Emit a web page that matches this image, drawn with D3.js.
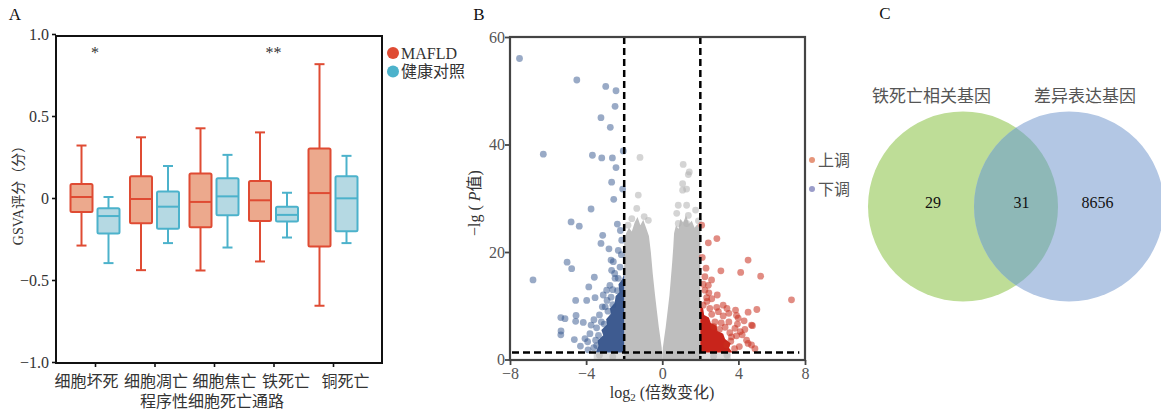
<!DOCTYPE html>
<html>
<head>
<meta charset="utf-8">
<script src="https://cdn.jsdelivr.net/npm/d3@7"></script>
<style>
  body { margin: 0; background: #fff; }
  svg { display: block; }
  text { font-family: "Liberation Serif", "Noto Sans CJK SC", serif; }
</style>
</head>
<body>
<svg width="1161" height="410"></svg>
<script>
// ---------- data: panel A (box stats: [whiskerLow, q1, median, q3, whiskerHigh]) ----------
var categories = ["细胞坏死", "细胞凋亡", "细胞焦亡", "铁死亡", "铜死亡"];
var groups = ["MAFLD", "健康对照"];
var mafldStats = [
  [-0.29, -0.085, 0.006, 0.085, 0.32],
  [-0.44, -0.154, -0.006, 0.132, 0.37],
  [-0.442, -0.178, -0.024, 0.15, 0.425],
  [-0.387, -0.14, -0.014, 0.103, 0.40],
  [-0.657, -0.296, 0.03, 0.302, 0.816]
];
var ctrlStats = [
  [-0.397, -0.217, -0.11, -0.063, 0.006],
  [-0.275, -0.188, -0.053, 0.04, 0.195],
  [-0.302, -0.105, 0.01, 0.12, 0.263],
  [-0.241, -0.144, -0.103, -0.053, 0.032],
  [-0.275, -0.202, -0.002, 0.132, 0.257]
];
var sigLabels = ["*", "", "", "**", ""];
var yTicksA = [-1, -0.5, 0, 0.5, 1];

// ---------- data: panel B (volcano) [log2FC, -lg P] ----------
var downPts = [
  [-7.5, 56.0], [-4.49, 52.0], [-2.97, 50.8], [-2.43, 50.0], [-2.48, 47.1], [-3.22, 45.0],
  [-2.73, 43.2], [-6.25, 38.2], [-3.67, 38.0], [-3.18, 37.5], [-2.62, 37.5], [-2.05, 38.8],
  [-2.43, 35.7], [-2.66, 33.0], [-2.08, 31.7], [-2.55, 29.8], [-3.74, 28.0], [-4.79, 25.6],
  [-4.36, 24.8], [-2.36, 25.2], [-3.13, 23.1], [-3.22, 21.6], [-2.80, 20.6], [-5.0, 18.1],
  [-4.76, 16.9], [-6.79, 14.8], [-3.57, 15.3], [-3.86, 13.5], [-4.55, 11.0], [-3.97, 11.0],
  [-3.53, 11.5], [-3.15, 9.8], [-5.33, 7.8], [-5.11, 7.6], [-4.53, 8.2], [-4.55, 7.1],
  [-4.15, 6.9], [-5.32, 5.3], [-5.33, 4.6], [-4.62, 3.7], [-4.06, 3.9], [-3.92, 3.3],
  [-3.74, 6.4], [-3.59, 7.4], [-2.69, 18.5], [-2.57, 18.2], [-2.66, 16.6], [-2.48, 15.1],
  [-2.92, 12.9], [-2.69, 11.6], [-2.31, 20.3], [-2.13, 22.2], [-2.22, 17.2], [-2.31, 15.1],
  [-3.35, 4.5], [-3.05, 6.6], [-2.85, 9.0], [-3.45, 2.6], [-2.6, 13.0], [-2.2, 24.0],
  [-3.6, 2.2], [-3.8, 4.8], [-3.45, 5.9], [-3.3, 8.3], [-3.0, 9.8], [-2.9, 11.0],
  [-2.75, 13.8], [-3.1, 12.0], [-2.5, 16.0], [-4.3, 2.5], [-3.9, 1.8], [-3.2, 7.0],
  [-2.6, 10.2], [-2.35, 12.8], [-3.5, 3.6], [-2.15, 19.5]
];
var upPts = [
  [2.07, 25.0], [2.42, 21.7], [2.87, 22.5], [4.51, 18.5], [3.08, 16.5], [4.12, 16.2],
  [5.17, 15.5], [6.79, 11.1], [2.24, 15.4], [2.59, 14.8], [2.42, 13.8], [2.24, 12.9],
  [2.89, 12.0], [2.33, 11.5], [3.20, 10.1], [2.86, 9.7], [3.85, 9.2], [4.51, 8.8],
  [4.97, 9.3], [2.50, 9.5], [3.20, 8.1], [3.50, 8.6], [3.99, 7.7], [4.30, 7.2],
  [4.69, 6.4], [4.34, 5.6], [3.90, 4.4], [3.64, 4.2], [4.43, 3.6], [4.69, 2.7],
  [4.87, 2.0], [3.38, 2.7], [2.77, 7.0], [2.15, 10.1], [3.82, 5.8], [4.51, 3.0],
  [3.9, 8.2], [4.74, 6.3], [3.3, 6.0], [3.6, 3.4], [2.6, 8.4],
  [3.1, 6.8], [3.5, 7.0], [2.95, 8.9], [3.55, 5.0], [4.05, 2.4], [3.95, 6.6],
  [2.35, 10.8], [2.6, 11.3], [3.4, 9.5], [4.2, 4.6], [2.15, 14.0], [2.3, 17.0],
  [2.1, 19.0], [3.0, 5.6], [2.7, 6.1], [3.8, 2.0], [4.1, 5.2], [2.45, 12.4]
];
var grayPts = [
  [-1.17, 37.6], [-1.26, 30.6], [1.10, 36.3], [1.42, 34.9], [1.37, 34.4], [1.07, 32.7],
  [1.07, 31.5], [1.28, 31.7], [0.84, 28.7], [1.28, 28.7], [1.75, 27.8], [-0.73, 25.9],
  [-1.34, 28.1], [0.76, 27.2], [1.37, 26.8], [0.84, 25.3], [1.28, 25.3], [-1.6, 26.2],
  [-0.95, 26.6], [-1.8, 25.0], [1.9, 25.8], [-3.3, 0.8], [3.4, 0.8], [-2.6, 0.5], [2.7, 0.6]
];
// outlines of the dense clouds
var grayLeftCloud = [
  [-2, 0], [-2, 22], [-1.9, 23.5], [-1.75, 24.5], [-1.6, 23.8], [-1.45, 25.5], [-1.3, 26.5],
  [-1.15, 25], [-1.0, 26], [-0.85, 24.5], [-0.7, 23], [-0.6, 20], [-0.5, 16], [-0.38, 12],
  [-0.28, 9], [-0.18, 6], [-0.1, 4], [-0.03, 2.2], [0, 0]
];
var grayRightCloud = [
  [0, 0], [0.03, 2.2], [0.1, 4], [0.18, 6], [0.28, 9], [0.38, 12], [0.45, 15], [0.52, 18],
  [0.58, 21], [0.62, 23.5], [0.72, 25], [0.85, 24.3], [0.95, 26.2], [1.1, 25.5], [1.25, 26.8],
  [1.4, 25.2], [1.55, 25.8], [1.7, 24.5], [1.85, 25.2], [2, 24], [2, 0]
];
var grayBottomStrip = [[-3.6, 0], [3.6, 0], [3.6, 1.3], [-3.6, 1.3]];
var downCloud = [
  [-2, 1.3], [-3.5, 1.3], [-3.35, 2.5], [-3.4, 3.5], [-3.1, 4.5], [-3.2, 5.5], [-2.9, 6.5],
  [-2.95, 7.5], [-2.7, 8.5], [-2.75, 9.5], [-2.5, 10.5], [-2.45, 11.8], [-2.25, 12.5],
  [-2.3, 14], [-2.1, 15], [-2, 16]
];
var upCloud = [
  [2, 1.3], [3.7, 1.3], [3.5, 2.2], [3.6, 3.0], [3.3, 3.8], [3.2, 4.8], [2.9, 5.3],
  [2.85, 6.3], [2.55, 6.8], [2.45, 7.8], [2.2, 8.3], [2.15, 9.5], [2, 10]
];
var fcCut = 2, pCut = 1.3;
var xTicksB = [-8, -4, 0, 4, 7.5];
var yTicksB = [0, 20, 40, 60];

// ---------- data: panel C (venn) ----------
var vennNames = ["铁死亡相关基因", "差异表达基因"];
var vennCounts = [29, 31, 8656]; // only left, both, only right

var svg = d3.select("svg");
var ink = "#333";

// panel letters
svg.append("text").attr("x", 15).attr("y", 20).attr("text-anchor", "middle").attr("font-size", 17).attr("fill", "#111").text("A");
svg.append("text").attr("x", 479).attr("y", 20).attr("text-anchor", "middle").attr("font-size", 17).attr("fill", "#111").text("B");
svg.append("text").attr("x", 885).attr("y", 19).attr("text-anchor", "middle").attr("font-size", 17).attr("fill", "#111").text("C");

// =================== panel A ===================
var gA = svg.append("g");
var xA = d3.scalePoint().domain(categories).range([95, 333]);
var yA = d3.scaleLinear().domain([-1, 1]).range([362, 34]);
var colA = d3.scaleOrdinal().domain(groups).range(["#df4b33", "#4cb2cb"]);
var fillA = d3.scaleOrdinal().domain(groups).range(["#eca98d", "#b5d9e3"]);
var offA = d3.scaleOrdinal().domain(groups).range([-13.5, 13.5]);
// labels in the figure are not centred on their ticks
var labelShift = [-9, 1, 10, 12, 12];

var yAxisA = gA.append("g").attr("transform", "translate(56,0)")
  .call(d3.axisLeft(yA).tickValues(yTicksA).tickSize(4)
    .tickFormat(function(d) { return d === 0 ? "0" : d3.format(".1f")(d); }));
var xAxisA = gA.append("g").attr("transform", "translate(0,363)")
  .call(d3.axisBottom(xA).tickSize(4).tickPadding(6));
[yAxisA, xAxisA].forEach(function(ax) {
  ax.select(".domain").remove();
  ax.selectAll(".tick line").attr("stroke", "#111").attr("stroke-width", 1.6);
  ax.selectAll("text").attr("font-size", 16).attr("fill", ink).style("font-family", null);
});
xAxisA.selectAll("text").attr("dy", "0.9em").attr("dx", function(d, i) { return labelShift[i]; });

gA.append("rect").attr("x", 56).attr("y", 36).attr("width", 326).attr("height", 327)
  .attr("fill", "none").attr("stroke", "#111").attr("stroke-width", 2);

var boxes = [];
categories.forEach(function(c, i) {
  boxes.push({ cat: c, grp: groups[0], s: mafldStats[i] });
  boxes.push({ cat: c, grp: groups[1], s: ctrlStats[i] });
});
var bw = 22, cap = 10;
var bg = gA.selectAll(".box").data(boxes).enter().append("g").attr("class", "box")
  .attr("transform", function(d) { return "translate(" + (xA(d.cat) + offA(d.grp)) + ",0)"; })
  .attr("stroke", function(d) { return colA(d.grp); }).attr("stroke-width", 2);
bg.append("line").attr("y1", function(d) { return yA(d.s[0]); }).attr("y2", function(d) { return yA(d.s[4]); });
bg.append("line").attr("x1", -cap / 2).attr("x2", cap / 2)
  .attr("y1", function(d) { return yA(d.s[0]); }).attr("y2", function(d) { return yA(d.s[0]); });
bg.append("line").attr("x1", -cap / 2).attr("x2", cap / 2)
  .attr("y1", function(d) { return yA(d.s[4]); }).attr("y2", function(d) { return yA(d.s[4]); });
bg.append("rect").attr("x", -bw / 2).attr("width", bw).attr("rx", 1.5)
  .attr("y", function(d) { return yA(d.s[3]); })
  .attr("height", function(d) { return yA(d.s[1]) - yA(d.s[3]); })
  .attr("fill", function(d) { return fillA(d.grp); });
bg.append("line").attr("x1", -bw / 2).attr("x2", bw / 2)
  .attr("y1", function(d) { return yA(d.s[2]); }).attr("y2", function(d) { return yA(d.s[2]); });

gA.selectAll(".sig").data(categories).enter().append("text")
  .attr("x", function(d) { return xA(d); }).attr("y", 58)
  .attr("text-anchor", "middle").attr("font-size", 16).attr("fill", ink)
  .text(function(d, i) { return sigLabels[i]; });

// legend A
var legA = gA.selectAll(".legA").data(groups).enter().append("g")
  .attr("transform", function(d, i) { return "translate(393," + (53 + i * 18.5) + ")"; });
legA.append("circle").attr("r", 6).attr("fill", function(d) { return colA(d); });
legA.append("text").attr("x", 8).attr("y", 5.5).attr("font-size", 16).attr("fill", ink).text(function(d) { return d; });

gA.append("text").attr("transform", "translate(23,192) rotate(-90)").attr("text-anchor", "middle")
  .attr("font-size", 14).attr("fill", ink).text("GSVA评分（分）");
gA.append("text").attr("x", 212).attr("y", 407).attr("text-anchor", "middle")
  .attr("font-size", 16).attr("fill", ink).text("程序性细胞死亡通路");

// =================== panel B ===================
var gB = svg.append("g");
// right frame edge sits at 7.5 on the true scale; the figure labels it "8"
var xB = d3.scaleLinear().domain([-8, 7.5]).range([510, 805]);
var yB = d3.scaleLinear().domain([0, 60]).range([359.5, 37]);
var grayC = "#bebebe", downC = "#34558e", upC = "#c92d1d";

var poly = d3.line().x(function(d) { return xB(d[0]); }).y(function(d) { return yB(d[1]); }).curve(d3.curveLinearClosed);

gB.append("path").attr("d", poly(grayBottomStrip)).attr("fill", grayC).attr("opacity", 0.5);
gB.append("path").attr("d", poly(grayLeftCloud)).attr("fill", grayC);
gB.append("path").attr("d", poly(grayRightCloud)).attr("fill", grayC);
gB.append("path").attr("d", poly(downCloud)).attr("fill", "#3e5b90");
gB.append("path").attr("d", poly(upCloud)).attr("fill", "#c8241b");

function dots(pts, color, op) {
  gB.append("g").selectAll("circle").data(pts).enter().append("circle")
    .attr("cx", function(d) { return xB(d[0]); }).attr("cy", function(d) { return yB(d[1]); })
    .attr("r", 3.4).attr("fill", color).attr("fill-opacity", op);
}
dots(grayPts, "#b0b0b0", 0.55);
dots(downPts, downC, 0.5);
dots(upPts, upC, 0.55);

// thresholds
var dash = gB.append("g").attr("stroke", "#000").attr("stroke-width", 2.5).attr("stroke-dasharray", "7,4");
[-fcCut, fcCut].forEach(function(v) {
  dash.append("line").attr("x1", xB(v)).attr("x2", xB(v)).attr("y1", yB(60)).attr("y2", yB(0));
});
dash.append("line").attr("x1", xB(-8) + 2).attr("x2", xB(7.2)).attr("y1", yB(pCut)).attr("y2", yB(pCut));

var xAxisB = gB.append("g").attr("transform", "translate(0,360)")
  .call(d3.axisBottom(xB).tickValues(xTicksB).tickSize(5)
    .tickFormat(function(d) { return d === 7.5 ? "8" : d3.format("d")(d); }));
var yAxisB = gB.append("g").attr("transform", "translate(510,0)")
  .call(d3.axisLeft(yB).tickValues(yTicksB).tickSize(5));
[xAxisB, yAxisB].forEach(function(ax) {
  ax.select(".domain").remove();
  ax.selectAll(".tick line").attr("stroke", "#444").attr("stroke-width", 1.8);
  ax.selectAll("text").attr("font-size", 16).attr("fill", "#555").style("font-family", null);
});
yAxisB.selectAll("text").attr("x", -5);

gB.append("rect").attr("x", 510).attr("y", 37).attr("width", 295).attr("height", 323)
  .attr("fill", "none").attr("stroke", "#444").attr("stroke-width", 2.2);

var legB = gB.selectAll(".legB").data([["上调", "#e6957a"], ["下调", "#9a9cc9"]]).enter().append("g")
  .attr("transform", function(d, i) { return "translate(812," + (160 + i * 29) + ")"; });
legB.append("circle").attr("r", 3).attr("fill", function(d) { return d[1]; });
legB.append("text").attr("x", 6).attr("y", 6).attr("font-size", 16).attr("fill", "#555").text(function(d) { return d[0]; });

var yl = gB.append("text").attr("transform", "translate(480,203) rotate(-90)").attr("text-anchor", "middle")
  .attr("font-size", 16).attr("fill", "#333");
yl.append("tspan").text("−lg ( ");
yl.append("tspan").attr("font-style", "italic").text("P");
yl.append("tspan").text("值)");

var xl = gB.append("text").attr("x", 662).attr("y", 398).attr("text-anchor", "middle")
  .attr("font-size", 16).attr("fill", "#333");
xl.append("tspan").text("log");
xl.append("tspan").attr("font-size", 11).attr("dy", 3).text("2");
xl.append("tspan").attr("dy", -3).text(" (倍数变化)");

// =================== panel C ===================
var gC = svg.append("g");
var vr = 95, vy = 206.5;
var vx = d3.scalePoint().domain(vennNames).range([963, 1069]);
gC.append("clipPath").attr("id", "clipL").append("circle")
  .attr("cx", vx(vennNames[0])).attr("cy", vy).attr("r", vr);
gC.selectAll(".set").data(vennNames).enter().append("circle")
  .attr("cx", function(d) { return vx(d); }).attr("cy", vy).attr("r", vr)
  .attr("fill", function(d, i) { return i === 0 ? "#bedd97" : "#b3c7e4"; });
gC.append("circle").attr("clip-path", "url(#clipL)")
  .attr("cx", vx(vennNames[1])).attr("cy", vy).attr("r", vr).attr("fill", "#8eb8b7");

gC.selectAll(".setName").data(vennNames).enter().append("text")
  .attr("x", function(d, i) { return i === 0 ? 931.5 : 1085; }).attr("y", 102)
  .attr("text-anchor", "middle").attr("font-size", 17).attr("fill", "#555").text(function(d) { return d; });
var cntX = [933, 1021.5, 1097.5];
gC.selectAll(".cnt").data(vennCounts).enter().append("text")
  .attr("x", function(d, i) { return cntX[i]; }).attr("y", 208)
  .attr("text-anchor", "middle").attr("font-size", 16).attr("fill", "#111").text(function(d) { return d; });
</script>
</body>
</html>
